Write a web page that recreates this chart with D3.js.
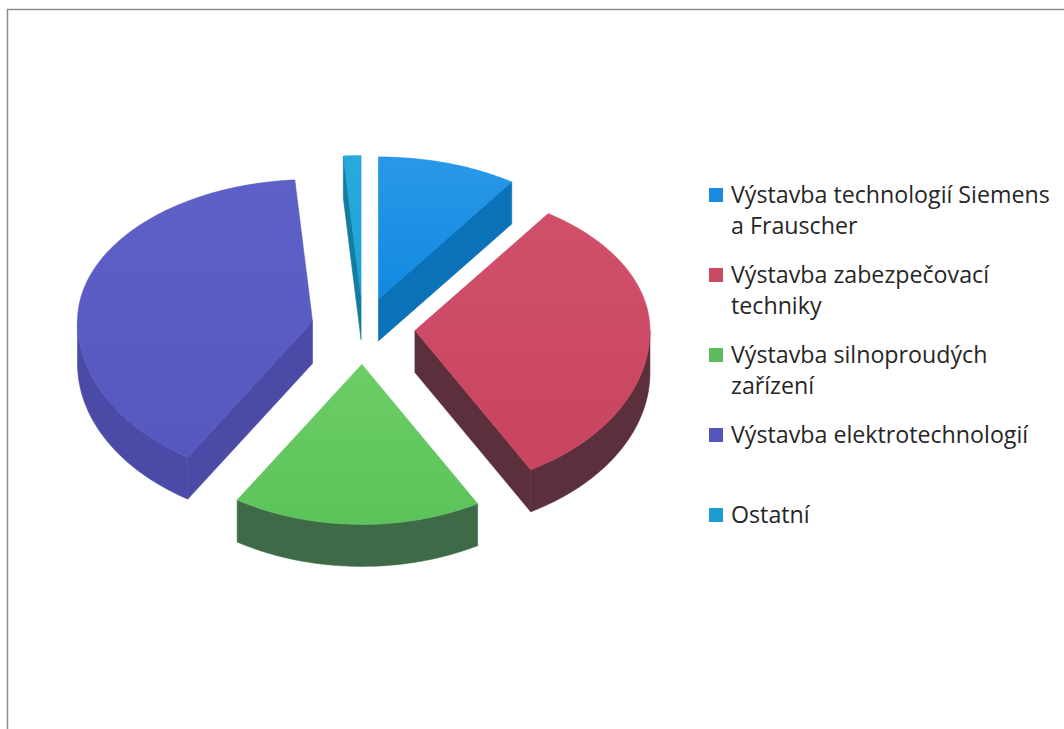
<!DOCTYPE html>
<html>
<head>
<meta charset="utf-8">
<script src="https://cdn.jsdelivr.net/npm/d3@7"></script>
<style>
  html, body { margin: 0; padding: 0; background: #ffffff; }
  svg { display: block; }
</style>
</head>
<body>
<script>
// ---- data ----
const categories = [
  "Výstavba technologií Siemens a Frauscher",
  "Výstavba zabezpečovací techniky",
  "Výstavba silnoproudých zařízení",
  "Výstavba elektrotechnologií",
  "Ostatní"
];
const values = [9.6, 32.2, 17.1, 39.9, 1.2];
const legendLines = [
  ["Výstavba technologií Siemens", "a Frauscher"],
  ["Výstavba zabezpečovací", "techniky"],
  ["Výstavba silnoproudých", "zařízení"],
  ["Výstavba elektrotechnologií"],
  ["Ostatní"]
];
const topColors  = ["#1189e0", "#c8445f", "#5cc35b", "#5658bf", "#1ba1d4"];
const topLight   = ["#2a98e8", "#d0506a", "#6ccd66", "#5d60c6", "#2aaadc"];
const wallColors = ["#0b71b8", "#5b2f3b", "#3f6a48", "#4b4ba7", "#137c9f"];
const legendColors = ["#1a8be0", "#c94a62", "#5dbb5d", "#5456bb", "#1a9ed0"];

// ---- layout ----
const W = 1064, H = 729;
const cx = 363, cy = 329, rx = 235, ryFar = 142, ryNear = 160, depth = 42, explode = 52;

const svg = d3.select("body").append("svg").attr("width", W).attr("height", H);
const defs = svg.append("defs");

// frame
svg.append("path")
  .attr("d", `M7.5,${H} V9.5 H${W}`)
  .attr("fill", "none").attr("stroke", "#8c8c8c").attr("stroke-width", 1.5);

const ry = t => (Math.cos(t) > 0 ? ryFar : ryNear);
function proj(t, r, ox, oy, dz) {
  return [cx + ox + r * rx * Math.sin(t), cy + oy - r * ry(t) * Math.cos(t) + dz];
}
const line = d3.line();

const data = categories.map((c, i) => ({ name: c, value: values[i], i }));
const arcs = d3.pie().sort(null).value(d => d.value)(data);
arcs.forEach(a => {
  const m = (a.startAngle + a.endAngle) / 2;
  a.ox = explode * Math.sin(m);
  a.oy = -explode * ry(m) / rx * Math.cos(m);
});
const order = arcs.slice().sort((a, b) => a.oy - b.oy);

function arcPts(a0, a1, ox, oy, dz) {
  const n = Math.max(2, Math.ceil((a1 - a0) / 0.02));
  return d3.range(n + 1).map(k => proj(a0 + (a1 - a0) * k / n, 1, ox, oy, dz));
}

topColors.forEach((c, i) => {
  const gr = defs.append("linearGradient").attr("id", "tg" + i)
    .attr("x1", 0).attr("y1", 0).attr("x2", 0).attr("y2", 1);
  gr.append("stop").attr("offset", "0%").attr("stop-color", topLight[i]);
  gr.append("stop").attr("offset", "100%").attr("stop-color", c);
});

order.forEach(a => {
  const g = svg.append("g");
  const a0 = a.startAngle, a1 = a.endAngle, ox = a.ox, oy = a.oy;
  const wc = wallColors[a.data.i];
  const apex = proj(0, 0, ox, oy, 0), apexB = proj(0, 0, ox, oy, depth);

  // radial walls
  [[a0, a0 - Math.PI / 2], [a1, a1 + Math.PI / 2]].forEach(([ang, nrm]) => {
    if (Math.cos(nrm) < 0) {
      const rim = proj(ang, 1, ox, oy, 0), rimB = proj(ang, 1, ox, oy, depth);
      g.append("path").attr("d", line([apex, rim, rimB, apexB]) + "Z")
        .attr("fill", wc).attr("stroke", wc).attr("stroke-width", 0.6);
    }
  });
  // outer curved wall (front half only)
  const w0 = Math.max(a0, Math.PI / 2), w1 = Math.min(a1, 3 * Math.PI / 2);
  if (w1 > w0) {
    const pts = arcPts(w0, w1, ox, oy, 0).concat(arcPts(w0, w1, ox, oy, depth).reverse());
    g.append("path").attr("d", line(pts) + "Z")
      .attr("fill", wc).attr("stroke", wc).attr("stroke-width", 0.6);
  }
  // top face
  const topPts = [apex].concat(arcPts(a0, a1, ox, oy, 0));
  g.append("path").attr("d", line(topPts) + "Z")
    .attr("fill", `url(#tg${a.data.i})`).attr("stroke", topColors[a.data.i]).attr("stroke-width", 0.6);
});

// ---- legend ----
const legendX = 709, legendTextX = 731, legendY0 = 203, legendStep = 80, lineH = 31, sw = 14;
const firstLineWidth = 319;
const lg = svg.append("g").attr("font-family", "'Open Sans', sans-serif")
  .attr("font-size", 22).attr("fill", "#262626");
const texts = [];
legendLines.forEach((lines, i) => {
  const y = legendY0 + i * legendStep;
  lg.append("rect").attr("x", legendX).attr("y", y - 15).attr("width", sw).attr("height", sw)
    .attr("fill", legendColors[i]);
  lines.forEach((t, j) => {
    texts.push(lg.append("text").attr("x", legendTextX).attr("y", y + j * lineH).text(t));
  });
});
const measured = texts[0].node().getComputedTextLength();
lg.attr("font-size", 22 * firstLineWidth / measured);
</script>
</body>
</html>
